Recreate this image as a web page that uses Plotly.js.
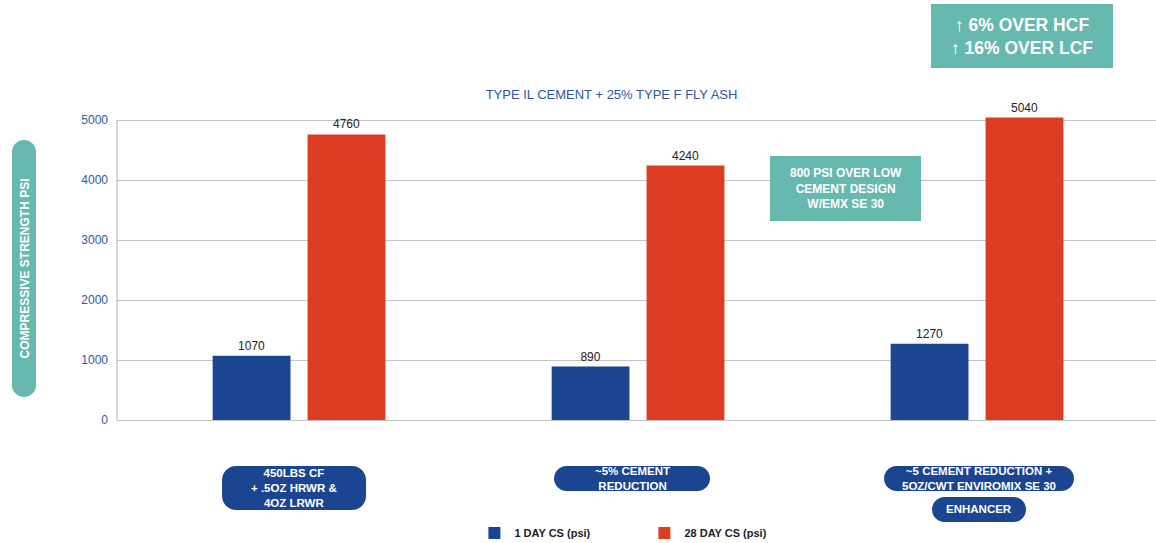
<!DOCTYPE html>
<html>
<head>
<meta charset="utf-8">
<script src="https://cdn.plot.ly/plotly-3.0.1.min.js"></script>
<style>html,body{margin:0;padding:0;background:#fff;}#chart{width:1156px;height:543px;}</style>
</head>
<body>
<div id="chart"></div>
<script>
// ---- data ----
const categories = ['450LBS CF<br>+ .5OZ HRWR &<br>4OZ LRWR', '~5% CEMENT<br>REDUCTION', '~5 CEMENT REDUCTION +<br>5OZ/CWT ENVIROMIX SE 30'];
const extraLabel = 'ENHANCER';
const seriesNames = ['1 DAY CS (psi)', '28 DAY CS (psi)'];
const oneDay = [1070, 890, 1270];
const twentyEightDay = [4760, 4240, 5040];
const chartTitle = 'TYPE IL CEMENT + 25% TYPE F FLY ASH';
const yTitle = 'COMPRESSIVE STRENGTH PSI';
const calloutTop = '↑ 6% OVER HCF<br>↑ 16% OVER LCF';
const calloutMid = '800 PSI OVER LOW<br>CEMENT DESIGN<br>W/EMX SE 30';

// ---- styles ----
const BLUE = '#1b4590', RED = '#dc3d22', TEAL = '#67b8ae', AXBLUE = '#2f55a4';
const FONT = 'Liberation Sans, Arial, sans-serif';

function roundRect(x0, y0, x1, y1, r) {
  const k = 0.5523 * r;
  return `M${x0 + r},${y0} L${x1 - r},${y0} C${x1 - r + k},${y0} ${x1},${y0 + r - k} ${x1},${y0 + r} ` +
    `L${x1},${y1 - r} C${x1},${y1 - r + k} ${x1 - r + k},${y1} ${x1 - r},${y1} ` +
    `L${x0 + r},${y1} C${x0 + r - k},${y1} ${x0},${y1 - r + k} ${x0},${y1 - r} ` +
    `L${x0},${y0 + r} C${x0},${y0 + r - k} ${x0 + r - k},${y0} ${x0 + r},${y0} Z`;
}

const traces = [
  {type: 'bar', name: seriesNames[0], x: categories, y: oneDay, marker: {color: BLUE},
   text: oneDay.map(String), textposition: 'outside', cliponaxis: false,
   textfont: {family: FONT, size: 12, color: '#222'}, hoverinfo: 'y'},
  {type: 'bar', name: seriesNames[1], x: categories, y: twentyEightDay, marker: {color: RED},
   text: twentyEightDay.map(String), textposition: 'outside', cliponaxis: false,
   textfont: {family: FONT, size: 12, color: '#222'}, hoverinfo: 'y'}
];

// pill positions (pixel offsets relative to category centre / plot bottom)
const pills = [
  {cat: 0, x0: -77, x1: 67, y0: -90, y1: -46, text: categories[0], ty: -68},
  {cat: 1, x0: -84, x1: 72, y0: -71, y1: -46, text: categories[1], ty: -58},
  {cat: 2, x0: -93, x1: 97, y0: -71, y1: -46, text: categories[2], ty: -58},
  {cat: 2, x0: -45, x1: 49, y0: -102, y1: -77, text: extraLabel, ty: -89}
];

const shapes = [];
const annotations = [];
pills.forEach(p => {
  const h = p.y1 - p.y0;
  shapes.push({type: 'path', xref: 'x', yref: 'paper', xsizemode: 'pixel', ysizemode: 'pixel',
    xanchor: p.cat, yanchor: 0, path: roundRect(p.x0, p.y0, p.x1, p.y1, Math.min(h / 2, 14)),
    fillcolor: BLUE, line: {width: 0}, layer: 'above'});
  annotations.push({xref: 'x', yref: 'paper', x: p.cat, y: 0, xshift: (p.x0 + p.x1) / 2, yshift: p.ty,
    text: '<b>' + p.text + '</b>', showarrow: false, font: {family: FONT, size: 11.5, color: '#fff'},
    xanchor: 'center', yanchor: 'middle', align: 'center'});
});

// left axis line from 0 to 5000
shapes.push({type: 'line', xref: 'paper', yref: 'y', x0: 0, x1: 0, y0: 0, y1: 5000,
  line: {color: '#b0b0b0', width: 1}});

// y-title pill (relative to plot left/bottom)
shapes.push({type: 'path', xref: 'paper', yref: 'paper', xsizemode: 'pixel', ysizemode: 'pixel',
  xanchor: 0, yanchor: 0, path: roundRect(-105, 23, -81, 280, 12), fillcolor: TEAL, line: {width: 0}});
annotations.push({xref: 'paper', yref: 'paper', x: 0, y: 0, xshift: -93, yshift: 151.5, textangle: -90,
  text: '<b>' + yTitle + '</b>', showarrow: false, font: {family: FONT, size: 12, color: '#fff'},
  xanchor: 'center', yanchor: 'middle'});

// callout boxes
shapes.push({type: 'rect', xref: 'paper', yref: 'paper', xsizemode: 'pixel', ysizemode: 'pixel',
  xanchor: 0, yanchor: 0, x0: 814, x1: 996, y0: 352, y1: 416, fillcolor: TEAL, line: {width: 0}});
annotations.push({xref: 'paper', yref: 'paper', x: 0, y: 0, xshift: 905, yshift: 384,
  text: '<b>' + calloutTop + '</b>', showarrow: false, font: {family: FONT, size: 17.5, color: '#fff'},
  xanchor: 'center', yanchor: 'middle', align: 'center'});
shapes.push({type: 'rect', xref: 'paper', yref: 'paper', xsizemode: 'pixel', ysizemode: 'pixel',
  xanchor: 0, yanchor: 0, x0: 653, x1: 804, y0: 199, y1: 264, fillcolor: TEAL, line: {width: 0}});
annotations.push({xref: 'paper', yref: 'paper', x: 0, y: 0, xshift: 728.5, yshift: 231.5,
  text: '<b>' + calloutMid + '</b>', showarrow: false, font: {family: FONT, size: 12, color: '#fff'},
  xanchor: 'center', yanchor: 'middle', align: 'center'});

const layout = {
  width: 1156, height: 543,
  margin: {l: 117, r: 0, t: 90, b: 123, autoexpand: false},
  paper_bgcolor: '#fff', plot_bgcolor: '#fff',
  font: {family: FONT},
  title: {text: chartTitle, x: 0.529, xanchor: 'center', y: 1 - 94 / 543, yanchor: 'middle', yref: 'container',
    font: {family: FONT, size: 13, color: AXBLUE}},
  barmode: 'group', bargap: 0.44, bargroupgap: 0.18,
  xaxis: {type: 'category', range: [-0.537, 2.528], showticklabels: false, showgrid: false,
    zeroline: false, showline: false, ticks: '', fixedrange: true},
  yaxis: {range: [0, 5500], dtick: 1000, tick0: 0, showgrid: true, gridcolor: '#c4c4c4', gridwidth: 1,
    zeroline: true, zerolinecolor: '#c4c4c4', zerolinewidth: 1,
    showline: false, ticks: '', ticklabelstandoff: 8,
    tickfont: {family: FONT, size: 12, color: AXBLUE}, fixedrange: true},
  showlegend: true,
  legend: {orientation: 'h', x: 0.344, xanchor: 'left', yref: 'container', y: 1 - 533 / 543, yanchor: 'middle',
    entrywidth: 125, entrywidthmode: 'pixels',
    font: {family: FONT, size: 11, color: '#222', weight: 'bold'}, bgcolor: 'rgba(0,0,0,0)'},
  shapes: shapes,
  annotations: annotations
};

Plotly.newPlot('chart', traces, layout, {displayModeBar: false, staticPlot: true});
</script>
</body>
</html>
